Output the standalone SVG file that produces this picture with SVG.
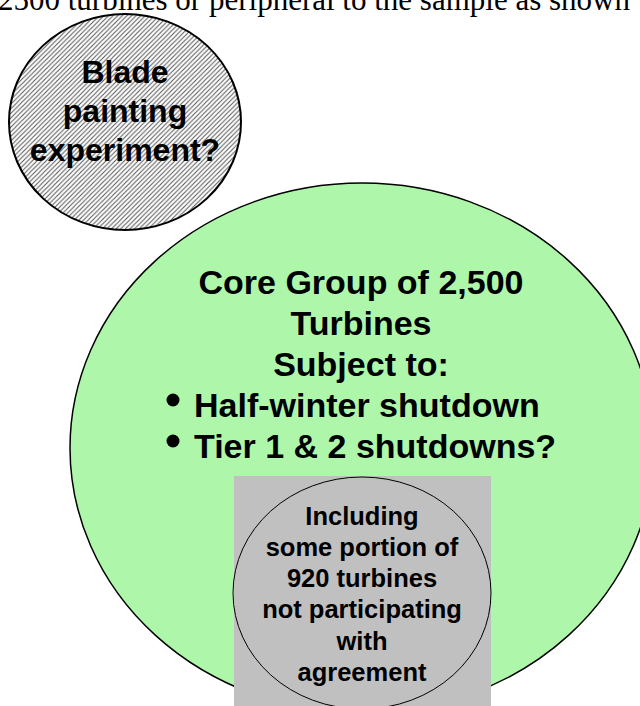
<svg xmlns="http://www.w3.org/2000/svg" width="640" height="706" viewBox="0 0 640 706">
  <style>
    .lbl { font-family: "Liberation Sans", Arial, sans-serif; font-weight: bold; fill: #000; text-anchor: middle; }
    .big { font-size: 34px; }
    .mid { font-size: 32px; }
    .small { font-size: 25.5px; }
    .top { font-family: "Liberation Serif", "Times New Roman", serif; font-size: 31px; fill: #000; }
  </style>
  <defs>
    <pattern id="hatch" patternUnits="userSpaceOnUse" width="4.6" height="4.6">
      <rect width="4.6" height="4.6" fill="#fff"/>
      <path d="M-1.15,1.15 L1.15,-1.15 M0,4.6 L4.6,0 M3.45,5.75 L5.75,3.45" stroke="#555" stroke-width="1"/>
    </pattern>
  </defs>
  <rect width="640" height="706" fill="#fff"/>

  <text class="top" x="-2" y="10">2500 turbines or peripheral to the sample as shown</text>

  <g id="blade">
    <ellipse cx="125" cy="122" rx="116" ry="108" fill="url(#hatch)" stroke="#000" stroke-width="2"/>
    <text class="lbl mid" x="125" y="83">Blade</text>
    <text class="lbl mid" x="125" y="122">painting</text>
    <text class="lbl mid" x="125" y="161">experiment?</text>
  </g>

  <g id="core">
    <ellipse cx="362" cy="448" rx="292" ry="265" fill="#aef7aa" stroke="#000" stroke-width="1.5"/>
    <text class="lbl big" x="361" y="294">Core Group of 2,500</text>
    <text class="lbl big" x="361" y="335">Turbines</text>
    <text class="lbl big" x="361" y="376">Subject to:</text>
    <circle cx="173" cy="400" r="6.5" fill="#000"/>
    <text class="lbl big" x="194" y="417" style="text-anchor:start">Half-winter shutdown</text>
    <circle cx="173" cy="441" r="6.5" fill="#000"/>
    <text class="lbl big" x="194" y="458" style="text-anchor:start">Tier 1 &amp; 2 shutdowns?</text>
  </g>

  <g id="nonparticipating">
    <rect x="234" y="476" width="257" height="230" fill="#c0c0c0"/>
    <ellipse cx="362" cy="593" rx="129" ry="116" fill="none" stroke="#000" stroke-width="1"/>
    <text class="lbl small" x="362" y="524.5">Including</text>
    <text class="lbl small" x="362" y="555.8">some portion of</text>
    <text class="lbl small" x="362" y="587.1">920 turbines</text>
    <text class="lbl small" x="362" y="618.4">not participating</text>
    <text class="lbl small" x="362" y="649.7">with</text>
    <text class="lbl small" x="362" y="681">agreement</text>
  </g>

  <g id="connectors"/>
</svg>
